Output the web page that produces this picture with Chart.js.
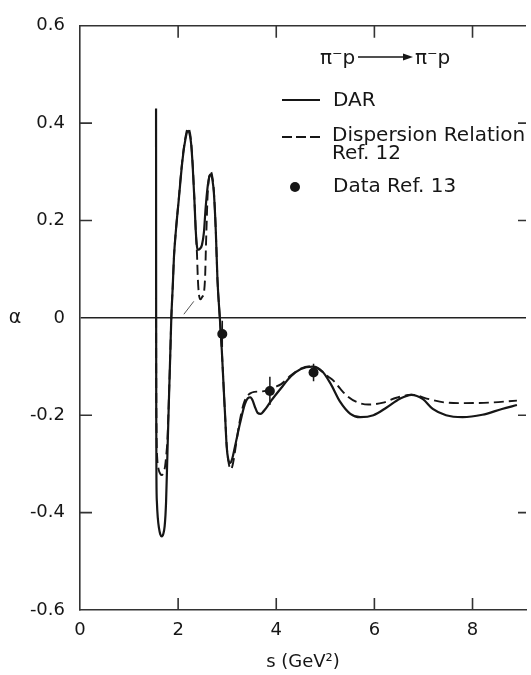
<!DOCTYPE html>
<html>
<head>
<meta charset="utf-8">
<title>pi- p polarization</title>
<script src="https://cdn.jsdelivr.net/npm/chart.js@4.4.1/dist/chart.umd.min.js"></script>
<style>
  html, body { margin: 0; padding: 0; background: #fff; }
  canvas { display: block; }
</style>
</head>
<body>
<canvas id="chart" width="531" height="675"></canvas>
<script>
// axis ticks
const xTicks = [0, 2, 4, 6, 8];
const yTicks = [-0.6, -0.4, -0.2, 0, 0.2, 0.4, 0.6];
const xTickMarks = [2, 4, 6, 8];
const yTickMarks = [-0.4, -0.2, 0.2, 0.4];

// DAR (solid)
const darS = [1.550, 1.551, 1.552, 1.554, 1.558, 1.568, 1.585, 1.610, 1.635, 1.667,
  1.700, 1.725, 1.742, 1.754, 1.782, 1.810, 1.839, 1.861, 1.890, 1.915,
  1.955, 2.016, 2.077, 2.137, 2.204, 2.260, 2.295, 2.330, 2.360, 2.385,
  2.410, 2.445, 2.486, 2.525, 2.560, 2.600, 2.635, 2.667, 2.700, 2.730,
  2.768, 2.802, 2.850, 2.890, 2.923, 2.957, 2.990, 3.020, 3.058, 3.100,
  3.159, 3.260, 3.360, 3.420, 3.474, 3.520, 3.562, 3.620, 3.683, 3.740,
  3.797, 3.897, 4.100, 4.300, 4.500, 4.738, 4.940, 5.107, 5.300, 5.510,
  5.712, 5.980, 6.250, 6.520, 6.754, 6.990, 7.190, 7.460, 7.796, 8.200,
  8.600, 8.905];
const darAlpha = [0.430, 0.200, 0.000, -0.200, -0.330, -0.380, -0.410, -0.432, -0.444, -0.449,
  -0.443, -0.428, -0.405, -0.379, -0.278, -0.177, -0.077, 0.000, 0.064, 0.125,
  0.180, 0.246, 0.313, 0.360, 0.384, 0.362, 0.315, 0.246, 0.178, 0.146,
  0.140, 0.142, 0.150, 0.175, 0.225, 0.268, 0.290, 0.295, 0.283, 0.255,
  0.178, 0.078, 0.000, -0.066, -0.133, -0.200, -0.265, -0.290, -0.298, -0.290,
  -0.264, -0.217, -0.177, -0.165, -0.163, -0.170, -0.182, -0.195, -0.197, -0.192,
  -0.185, -0.170, -0.144, -0.120, -0.105, -0.100, -0.110, -0.135, -0.172, -0.197,
  -0.204, -0.200, -0.184, -0.166, -0.158, -0.167, -0.187, -0.200, -0.204, -0.199,
  -0.187, -0.179];

// Dispersion relation, ref. 12 (dashed)
const dispS = [1.551, 1.553, 1.556, 1.562, 1.575, 1.600, 1.635, 1.667, 1.700, 1.734,
  1.760, 1.782, 1.810, 1.839, 1.861, 1.890, 1.915, 1.955, 2.016, 2.077,
  2.137, 2.204, 2.260, 2.295, 2.330, 2.360, 2.385, 2.400, 2.420, 2.453,
  2.490, 2.530, 2.552, 2.565, 2.580, 2.600, 2.635, 2.667, 2.700, 2.730,
  2.768, 2.802, 2.850, 2.890, 2.923, 2.957, 2.990, 3.030, 3.078, 3.120,
  3.180, 3.250, 3.330, 3.400, 3.470, 3.550, 3.700, 3.830, 3.950, 4.100,
  4.300, 4.500, 4.738, 4.900, 5.050, 5.175, 5.300, 5.440, 5.645, 5.880,
  6.180, 6.450, 6.754, 7.120, 7.460, 7.796, 8.330, 8.905];
const dispAlpha = [0.000, -0.100, -0.180, -0.250, -0.290, -0.310, -0.320, -0.323, -0.318, -0.305,
  -0.280, -0.250, -0.170, -0.077, 0.000, 0.064, 0.125, 0.180, 0.248, 0.316,
  0.364, 0.390, 0.367, 0.318, 0.248, 0.178, 0.130, 0.085, 0.052, 0.038,
  0.043, 0.055, 0.090, 0.140, 0.190, 0.250, 0.292, 0.300, 0.288, 0.258,
  0.178, 0.078, 0.000, -0.066, -0.133, -0.200, -0.262, -0.298, -0.311, -0.298,
  -0.260, -0.215, -0.178, -0.162, -0.155, -0.152, -0.151, -0.149, -0.143, -0.136,
  -0.118, -0.104, -0.099, -0.108, -0.120, -0.130, -0.145, -0.160, -0.173, -0.178,
  -0.174, -0.164, -0.158, -0.167, -0.174, -0.175, -0.174, -0.170];

// data, ref. 13
const dataS = [2.90, 3.87, 4.76];
const dataAlpha = [-0.033, -0.150, -0.112];
const dataErr = [0.027, 0.029, 0.018];

// little pointer stroke under the first hump
const pointerS = [2.117, 2.319];
const pointerAlpha = [0.0075, 0.034];

const ink = "#161616";
const fontFamily = '"DejaVu Sans", "Liberation Sans", sans-serif';

function toPoints(xs, ys) {
  return xs.map((x, i) => ({ x: x, y: ys[i] }));
}

const framePlugin = {
  id: "frame",
  afterDraw(chart) {
    const { ctx, chartArea: a, scales } = chart;
    const x = scales.x;
    const y = scales.y;
    ctx.save();
    ctx.strokeStyle = "#333";
    ctx.lineWidth = 1.6;
    ctx.beginPath();
    ctx.moveTo(a.left, a.top);
    ctx.lineTo(a.right, a.top);
    xTickMarks.forEach((v) => {
      const px = x.getPixelForValue(v);
      ctx.moveTo(px, a.bottom);
      ctx.lineTo(px, a.bottom - 12);
      ctx.moveTo(px, a.top);
      ctx.lineTo(px, a.top + 12);
    });
    yTickMarks.forEach((v) => {
      const py = y.getPixelForValue(v);
      ctx.moveTo(a.left, py);
      ctx.lineTo(a.left + 12, py);
      ctx.moveTo(a.right, py);
      ctx.lineTo(a.right - 8, py);
    });
    ctx.stroke();

    // y axis label
    ctx.fillStyle = ink;
    ctx.font = "19px " + fontFamily;
    ctx.textAlign = "center";
    ctx.textBaseline = "middle";
    ctx.fillText("α", 15, y.getPixelForValue(0));
    ctx.restore();
  },
};

const errorBarPlugin = {
  id: "errorBars",
  afterDatasetsDraw(chart) {
    const { ctx, scales } = chart;
    ctx.save();
    ctx.strokeStyle = ink;
    ctx.lineWidth = 1.5;
    ctx.beginPath();
    dataS.forEach((s, i) => {
      const px = scales.x.getPixelForValue(s);
      ctx.moveTo(px, scales.y.getPixelForValue(dataAlpha[i] + dataErr[i]));
      ctx.lineTo(px, scales.y.getPixelForValue(dataAlpha[i] - dataErr[i]));
    });
    ctx.stroke();
    ctx.restore();
  },
};

const legendPlugin = {
  id: "keyBox",
  afterDraw(chart) {
    const ctx = chart.ctx;
    ctx.save();
    ctx.fillStyle = ink;
    ctx.strokeStyle = ink;
    ctx.font = "20px " + fontFamily;
    ctx.textAlign = "left";

    // reaction label
    ctx.textBaseline = "alphabetic";
    ctx.fillText("π⁻p", 320, 64);
    ctx.fillText("π⁻p", 415, 64);
    ctx.lineWidth = 1.6;
    ctx.beginPath();
    ctx.moveTo(358, 57);
    ctx.lineTo(404, 57);
    ctx.stroke();
    ctx.beginPath();
    ctx.moveTo(403, 53.5);
    ctx.lineTo(413, 57);
    ctx.lineTo(403, 60.5);
    ctx.closePath();
    ctx.fill();

    // entries
    ctx.textBaseline = "middle";
    ctx.lineWidth = 2;
    ctx.beginPath();
    ctx.moveTo(282, 100);
    ctx.lineTo(320, 100);
    ctx.stroke();
    ctx.fillText("DAR", 333, 101);

    ctx.setLineDash([10, 4]);
    ctx.beginPath();
    ctx.moveTo(282, 137);
    ctx.lineTo(320, 137);
    ctx.stroke();
    ctx.setLineDash([]);
    ctx.fillText("Dispersion Relation", 332, 136);
    ctx.fillText("Ref. 12", 332, 154);

    ctx.beginPath();
    ctx.arc(295, 187, 5, 0, Math.PI * 2);
    ctx.fill();
    ctx.fillText("Data Ref. 13", 333, 187);
    ctx.restore();
  },
};

new Chart(document.getElementById("chart"), {
  type: "scatter",
  data: {
    datasets: [
      {
        label: "DAR",
        data: toPoints(darS, darAlpha),
        showLine: true,
        borderColor: ink,
        borderWidth: 2.2,
        pointRadius: 0,
        cubicInterpolationMode: "monotone",
      },
      {
        label: "Dispersion Relation Ref. 12",
        data: toPoints(dispS, dispAlpha),
        showLine: true,
        borderColor: ink,
        borderWidth: 1.9,
        borderDash: [10, 5],
        pointRadius: 0,
        cubicInterpolationMode: "monotone",
      },
      {
        label: "pointer",
        data: toPoints(pointerS, pointerAlpha),
        showLine: true,
        borderColor: "#555",
        borderWidth: 1,
        pointRadius: 0,
      },
      {
        label: "Data Ref. 13",
        data: toPoints(dataS, dataAlpha),
        showLine: false,
        pointRadius: 5,
        pointBackgroundColor: ink,
        pointBorderColor: ink,
        pointBorderWidth: 0,
      },
    ],
  },
  options: {
    responsive: false,
    animation: false,
    devicePixelRatio: 1,
    layout: { padding: { top: 14, right: 0, left: 0, bottom: 0 } },
    plugins: {
      legend: { display: false },
      tooltip: { enabled: false },
    },
    scales: {
      x: {
        type: "linear",
        min: 0,
        max: 9.09,
        afterBuildTicks: (scale) => {
          scale.ticks = xTicks.map((v) => ({ value: v }));
        },
        afterFit: (scale) => {
          scale.height = 65;
        },
        ticks: {
          padding: 10,
          color: ink,
          font: { family: fontFamily, size: 18 },
          callback: (v) => String(v),
        },
        grid: { drawOnChartArea: false, drawTicks: false },
        border: { color: "#333", width: 1.6 },
        title: {
          display: true,
          text: "s (GeV²)",
          color: ink,
          font: { family: fontFamily, size: 18 },
          padding: { top: 0, bottom: 2 },
        },
      },
      y: {
        type: "linear",
        min: -0.6,
        max: 0.6,
        afterBuildTicks: (scale) => {
          scale.ticks = yTicks.map((v) => ({ value: v }));
        },
        afterFit: (scale) => {
          scale.width = 80;
        },
        ticks: {
          padding: 15,
          color: ink,
          font: { family: fontFamily, size: 18 },
          callback: (v) => (v === 0 ? "0" : v.toFixed(1)),
        },
        grid: {
          drawTicks: false,
          lineWidth: 1.6,
          color: (c) => (c.tick && c.tick.value === 0 ? "#222" : "rgba(0,0,0,0)"),
        },
        border: { color: "#333", width: 1.6 },
      },
    },
  },
  plugins: [framePlugin, errorBarPlugin, legendPlugin],
});
</script>
</body>
</html>
